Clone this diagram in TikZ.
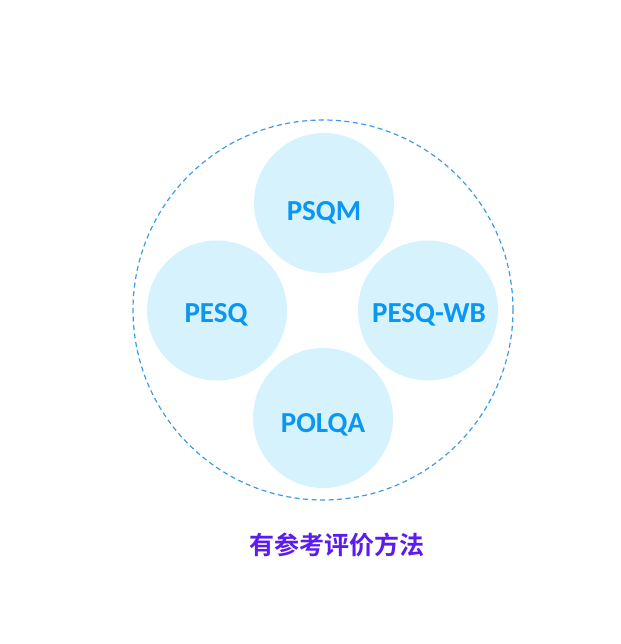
\documentclass[tikz,border=0pt]{standalone}
\usepackage{fontspec}
\setmainfont{Carlito}
\newfontfamily\cjk{Noto Sans CJK SC}[BoldFont={Noto Sans CJK SC Bold}]
\definecolor{bubble}{HTML}{D6F2FD}
\definecolor{txtblue}{HTML}{0A96F2}
\definecolor{dashblue}{HTML}{3A9AEC}
\definecolor{capviolet}{HTML}{5A1CF0}
\begin{document}
\begin{tikzpicture}[x=1pt,y=-1pt,
  bubblenode/.style={circle,fill=bubble,minimum size=140pt,inner sep=0pt},
  bubbletext/.style={inner sep=0pt,text height=18.7pt,text depth=0pt,
    font=\fontsize{29}{32}\selectfont\bfseries,text=txtblue},
  outer/.style={circle,draw=dashblue,dash pattern=on 5pt off 3.5pt,line width=1.2pt,minimum size=380pt,inner sep=0pt}]
\useasboundingbox (0,0) rectangle (620,644);
\node[outer] (ring) at (323,310) {};
\node[bubblenode] (psqm) at (324,203) {};
\node[bubblenode] (pesq) at (217,310.5) {};
\node[bubblenode] (pesqwb) at (428,310.5) {};
\node[bubblenode] (polqa) at (323,418) {};
\node[bubbletext] (tpsqm) at (324,211) {PSQM};
\node[bubbletext] (tpesq) at (216,313.5) {PESQ};
\node[bubbletext] (tpesqwb) at (429,313.5) {PESQ-WB};
\node[bubbletext] (tpolqa) at (323,423.5) {POLQA};
\node[font=\cjk\bfseries\fontsize{25}{28}\selectfont,text=capviolet] (cap) at (336.5,545) {有参考评价方法};
\end{tikzpicture}
\end{document}
